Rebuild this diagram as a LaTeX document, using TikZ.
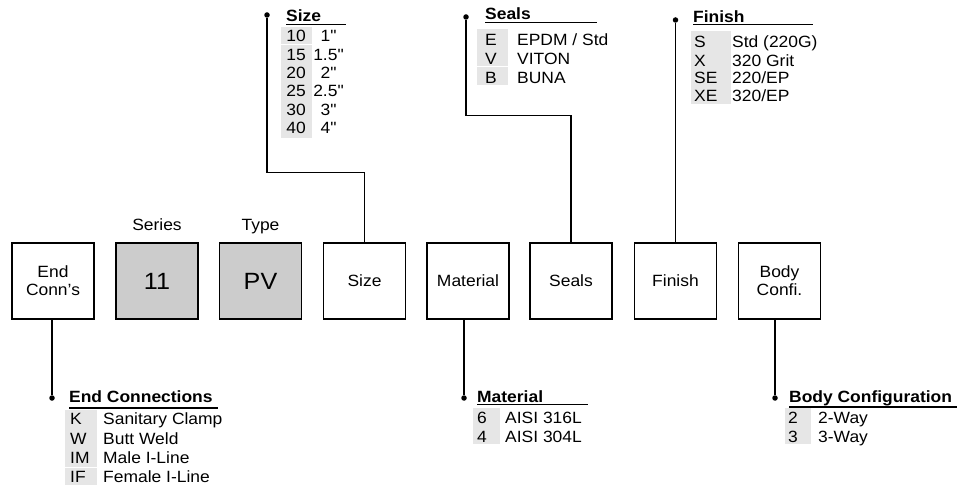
\documentclass[tikz,border=0pt]{standalone}
\usepackage{fontspec}
\setmainfont{Liberation Sans}[FakeStretch=1.07, Ligatures=TeXOff]
\definecolor{boxgray}{HTML}{CCCCCC}
\definecolor{codegray}{HTML}{E6E6E6}
\tikzset{
  box/.style={draw, line width=1.4pt, minimum width=82pt, minimum height=76pt, inner sep=0pt, align=center, font=\fontsize{16.3}{18}\selectfont},
  greybox/.style={box, fill=boxgray, font=\fontsize{23.5}{26}\selectfont},
  conn/.style={line width=1.4pt},
  dotc/.style={circle, fill, inner sep=0pt, minimum size=5.5pt},
  txt/.style={inner sep=0pt, font=\fontsize{16.3}{18}\selectfont},
  ttl/.style={inner sep=0pt, anchor=base west, font=\fontsize{16.3}{18}\selectfont\bfseries},
  uline/.style={line width=1.4pt},
  codecol/.style={fill=codegray, draw=none},
}
\begin{document}
\begin{tikzpicture}[x=1pt,y=-1pt]
\useasboundingbox (0,0) rectangle (961,486);

% main boxes
\node[box] (ec) at (53,281) {End\\Conn’s};
\node[greybox] (ser) at (157,281) {11};
\node[greybox] (typ) at (260.5,281) {PV};
\node[box] (siz) at (364.5,281) {Size};
\node[box] (mat) at (468,281) {Material};
\node[box] (sea) at (571,281) {Seals};
\node[box] (fin) at (675.5,281) {Finish};
\node[box] (bod) at (779.5,281) {Body\\Confi.};
\node[txt, anchor=base] (serlbl) at (157,231) {Series};
\node[txt, anchor=base] (typlbl) at (260.5,231) {Type};

% dots
\node[dotc] (szdot) at (267,15) {};
\node[dotc] (sldot) at (466,17) {};
\node[dotc] (fndot) at (675.5,20) {};
\node[dotc] (ecdot) at (52,398) {};
\node[dotc] (mtdot) at (464,398) {};
\node[dotc] (bddot) at (775,398) {};

% connectors
\draw[conn] (siz.north) -- ++(0,-70) -| (szdot);
\draw[conn] (sea.north) -- ++(0,-127) -| (sldot);
\draw[conn] (fin.north) -- (fndot);
\draw[conn] (ec.south -| ecdot) -- (ecdot);
\draw[conn] (mat.south -| mtdot) -- (mtdot);
\draw[conn] (bod.south -| bddot) -- (bddot);

% ---- Size legend
\fill[codecol] (281,27.5) rectangle (312,44);
\fill[codecol] (281,45) rectangle (312,138);
\node[ttl] (szt) at (286,21.5) {Size};
\draw[uline] (286,24.5) -- (346,24.5);
\foreach \c/\v/\yy in {10/1"/36, 15/1.5"/55, 20/2"/73, 25/2.5"/91, 30/3"/110, 40/4"/128}{
  \node[txt, anchor=base] (szc\c) at (296,{\yy+5.8}) {\c};
  \node[txt, anchor=base] (szv\c) at (328.5,{\yy+5.8}) {\v};
}

% ---- Seals legend
\fill[codecol] (477,29) rectangle (508,66.5);
\fill[codecol] (477,67.5) rectangle (508,85);
\node[ttl] (slt) at (485,20) {Seals};
\draw[uline] (485,22.8) -- (597,22.8);
\foreach \c/\v/\yy in {E/{EPDM / Std}/40, V/VITON/59, B/BUNA/78}{
  \node[txt, anchor=base] (slc\c) at (491,{\yy+5.8}) {\c};
  \node[txt, anchor=base west] (slv\c) at (517,{\yy+5.8}) {\v};
}

% ---- Finish legend
\fill[codecol] (691,31) rectangle (731,104);
\node[ttl] (fnt) at (693,22.5) {Finish};
\draw[uline] (693,24.8) -- (813,24.8);
\foreach \c/\v/\yy in {S/{Std (220G)}/42, X/{320 Grit}/60.5, SE/{220/EP}/78, XE/{320/EP}/95.5}{
  \node[txt, anchor=base west] (fnc\c) at (694,{\yy+5.8}) {\c};
  \node[txt, anchor=base west] (fnv\c) at (732,{\yy+5.8}) {\v};
}

% ---- End Connections legend
\fill[codecol] (65,410) rectangle (97,466.5);
\fill[codecol] (65,467.5) rectangle (97,484.5);
\node[ttl] (ect) at (69,402.5) {End Connections};
\draw[uline] (69,408) -- (218,408);
\foreach \c/\v/\yy in {K/{Sanitary Clamp}/419, W/{Butt Weld}/439, IM/{Male I-Line}/458, IF/{Female I-Line}/477}{
  \node[txt, anchor=base west] (ecc\c) at (70,{\yy+5.8}) {\c};
  \node[txt, anchor=base west] (ecv\c) at (103,{\yy+5.8}) {\v};
}

% ---- Material legend
\fill[codecol] (473,408) rectangle (500,444);
\node[ttl] (mtt) at (477,402.3) {Material};
\draw[uline] (477,404.5) -- (588,404.5);
\foreach \c/\v/\yy in {6/{AISI 316L}/418, 4/{AISI 304L}/437}{
  \node[txt, anchor=base west] (mtc\c) at (477,{\yy+5.8}) {\c};
  \node[txt, anchor=base west] (mtv\c) at (505,{\yy+5.8}) {\v};
}

% ---- Body Configuration legend
\fill[codecol] (785,408) rectangle (811,444);
\node[ttl] (bdt) at (789,402.3) {Body Configuration};
\draw[uline] (789,407) -- (957,407);
\foreach \c/\v/\yy in {2/2-Way/418, 3/3-Way/437}{
  \node[txt, anchor=base west] (bdc\c) at (788,{\yy+5.8}) {\c};
  \node[txt, anchor=base west] (bdv\c) at (818,{\yy+5.8}) {\v};
}
\end{tikzpicture}
\end{document}
